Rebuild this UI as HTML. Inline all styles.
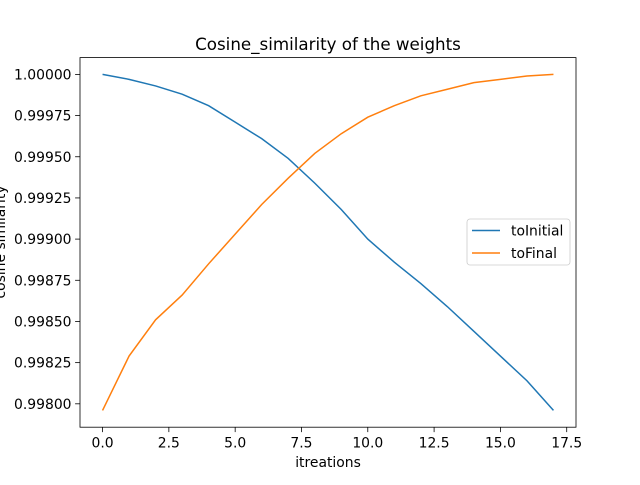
<!DOCTYPE html>
<html><head><meta charset="utf-8"><style>
body{margin:0;background:#fff;}
svg text{font-family:"DejaVu Sans","Liberation Sans",sans-serif;}
</style></head><body>
<svg id="chart" width="640" height="480" xmlns="http://www.w3.org/2000/svg">
<rect width="640" height="480" fill="#fff"/>
<text x="328" y="50" font-size="16.7" text-anchor="middle">Cosine_similarity of the weights</text>
<text x="328" y="467" font-size="13.9" text-anchor="middle">itreations</text>
<text transform="translate(5,242) rotate(-90)" font-size="13.9" text-anchor="middle">cosine similarity</text>
<g id="ticks"></g>
<g id="series"></g>
<rect x="80" y="57.6" width="496" height="369.6" fill="none" stroke="#000" stroke-width="0.8"/>
<g>
<rect x="467" y="219" width="103" height="46" rx="3" fill="#fff" fill-opacity="0.8" stroke="#ccc" stroke-width="0.8"/>
<line x1="472" y1="230.5" x2="500" y2="230.5" stroke="#1f77b4" stroke-width="1.5"/>
<text x="511" y="235.5" font-size="13.9">toInitial</text>
<line x1="472" y1="253" x2="500" y2="253" stroke="#ff7f0e" stroke-width="1.5"/>
<text x="511" y="258" font-size="13.9">toFinal</text>
</g>
</svg>
<script>
const iterations=[0,1,2,3,4,5,6,7,8,9,10,11,12,13,14,15,16,17];
const toInitial=[1.0,0.99997,0.99993,0.99988,0.99981,0.99971,0.99961,0.99949,0.99934,0.99918,0.99900,0.99886,0.99873,0.99859,0.99844,0.99829,0.99814,0.99796];
const toFinal=[0.99796,0.99829,0.99851,0.99866,0.99885,0.99903,0.99921,0.99937,0.99952,0.99964,0.99974,0.99981,0.99987,0.99991,0.99995,0.99997,0.99999,1.0];
const xTicks=[0,2.5,5,7.5,10,12.5,15,17.5];
const xTickLabels=["0.0","2.5","5.0","7.5","10.0","12.5","15.0","17.5"];
const yTicks=[0.998,0.99825,0.9985,0.99875,0.999,0.99925,0.9995,0.99975,1.0];
const yTickLabels=["0.99800","0.99825","0.99850","0.99875","0.99900","0.99925","0.99950","0.99975","1.00000"];
const NS="http://www.w3.org/2000/svg";
const L=80,R=576,T=57.6,B=427.2;
const allX=iterations,allY=toInitial.concat(toFinal);
const xmin=Math.min(...allX),xmax=Math.max(...allX),xm=(xmax-xmin)*0.05;
const ymin=Math.min(...allY),ymax=Math.max(...allY),ym=(ymax-ymin)*0.05;
function xs(v){return L+(v-(xmin-xm))/((xmax+xm)-(xmin-xm))*(R-L);}
function ys(v){return B-(v-(ymin-ym))/((ymax+ym)-(ymin-ym))*(B-T);}
const tg=document.getElementById('ticks');
xTicks.forEach((t,i)=>{const x=xs(t);
const l=document.createElementNS(NS,'line');l.setAttribute('x1',x);l.setAttribute('x2',x);l.setAttribute('y1',B);l.setAttribute('y2',B+4.9);l.setAttribute('stroke','#000');l.setAttribute('stroke-width','0.8');


tg.appendChild(l);
const s=document.createElementNS(NS,'text');s.setAttribute('x',x);s.setAttribute('y',B+20.5);s.setAttribute('font-size','13.9');s.setAttribute('text-anchor','middle');s.textContent=xTickLabels[i];


tg.appendChild(s);});
yTicks.forEach((t,i)=>{const y=ys(t);
const l=document.createElementNS(NS,'line');l.setAttribute('x1',L-4.9);l.setAttribute('x2',L);l.setAttribute('y1',y);l.setAttribute('y2',y);l.setAttribute('stroke','#000');l.setAttribute('stroke-width','0.8');


tg.appendChild(l);
const s=document.createElementNS(NS,'text');s.setAttribute('x',L-8.5);s.setAttribute('y',y+5);s.setAttribute('font-size','13.9');s.setAttribute('text-anchor','end');s.textContent=yTickLabels[i];


tg.appendChild(s);});
const sg=document.getElementById('series');
function line(vals,color,name){const p=document.createElementNS(NS,'polyline');
p.setAttribute('points',vals.map((v,i)=>xs(iterations[i])+','+ys(v)).join(' '));
p.setAttribute('fill','none');p.setAttribute('stroke',color);p.setAttribute('stroke-width','1.5');


sg.appendChild(p);}
line(toInitial,'#1f77b4','toinitial-line');
line(toFinal,'#ff7f0e','tofinal-line');
</script>
</body></html>
